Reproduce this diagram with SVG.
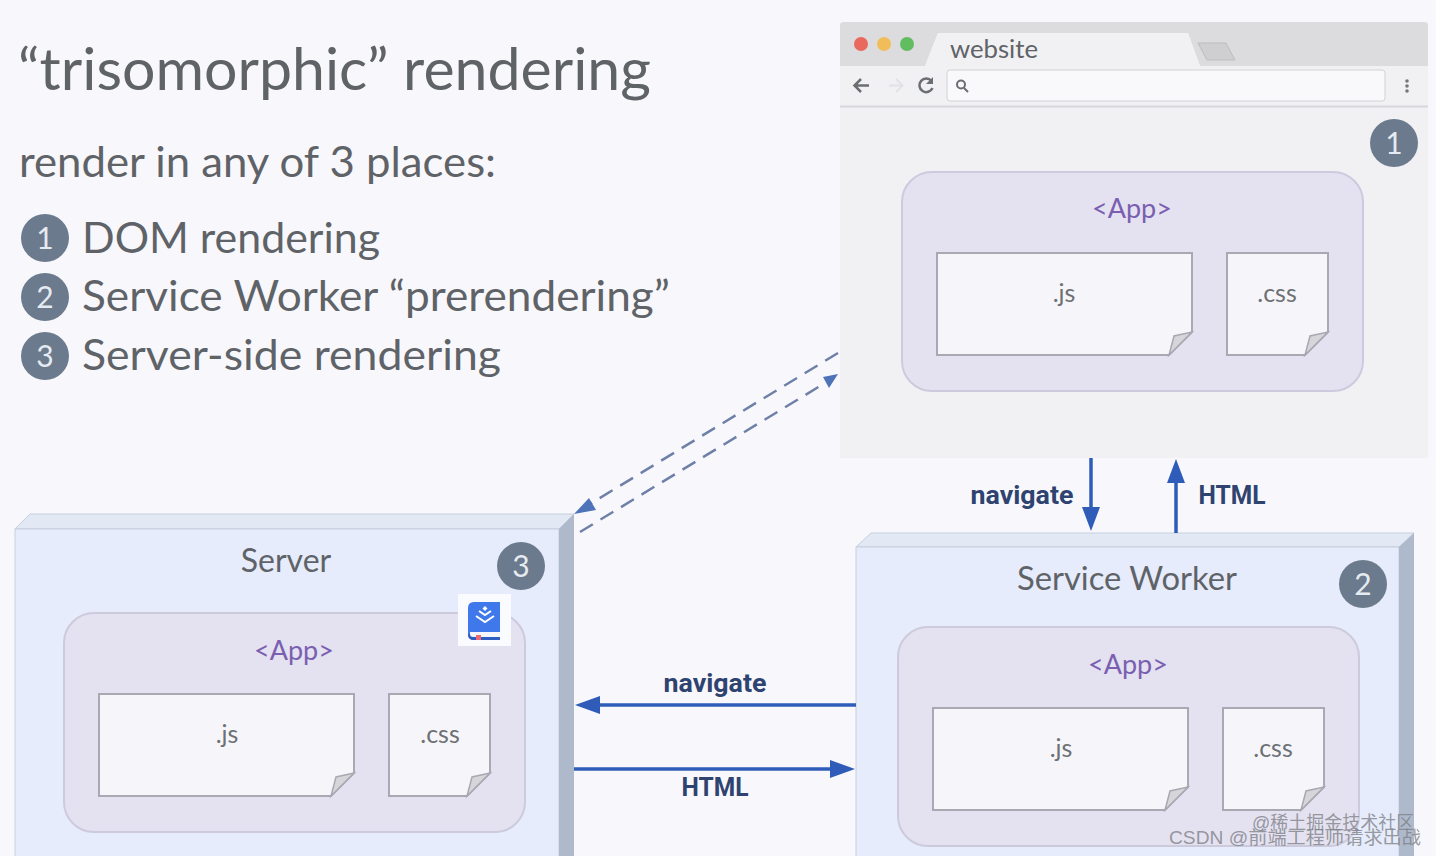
<svg xmlns="http://www.w3.org/2000/svg" width="1436" height="856" viewBox="0 0 1436 856">
<style>
text{font-family:Lato,"Open Sans","Liberation Sans",sans-serif;fill:#5f6368}
.list{font-size:43px}
.lbl{font-size:32px;text-anchor:middle}
.app{font-size:27px;fill:#7a5fb0;text-anchor:middle}
.file{font-size:25px;fill:#6d7074;text-anchor:middle}
.conn{font-size:25px;font-weight:700;fill:#2f4370;font-family:Roboto,"Liberation Sans",sans-serif;text-anchor:middle}
.num{font-size:30px;fill:#e6ebf1;text-anchor:middle}
.badge{fill:#6b7a8d}
.box{fill:#e6ecfb;stroke:#c6cfdd;stroke-width:1}
.top{fill:#e2e8f4;stroke:#c6cfdd}
.side{fill:#aebacb}
.panel{fill:#e4e1f0;stroke:#cdcade;stroke-width:2}
.paper{fill:#f6f6fa;stroke:#a9a9b3;stroke-width:2}
.fold{fill:#d5d5da;stroke:#a9a9b3;stroke-width:1.5}
.solid{stroke:#2f5cb8;stroke-width:3.5;fill:none}
.dash{stroke:#6f80a8;stroke-width:2.5;stroke-dasharray:15 9;fill:none}
.head{fill:#2f5cb8}
.wm{font-family:"Liberation Sans","Noto Sans CJK SC",sans-serif;font-size:18px;fill:#7f8288;fill-opacity:.8}
</style>
<defs>
<g id="appbox">
<rect class="panel" x="0" y="0" width="461" height="219" rx="30"/>
<path class="paper" d="M35 81H290V160L267 183H35Z"/>
<path class="fold" d="M267 183L272 164L290 160Z"/>
<path class="paper" d="M325 81H426V160L403 183H325Z"/>
<path class="fold" d="M403 183L408 164L426 160Z"/>
</g>
</defs>
<rect width="1436" height="856" fill="#f8f8fc"/>

<g id="heading">
<text x="18" y="90" font-size="58" textLength="633" lengthAdjust="spacingAndGlyphs">“trisomorphic” rendering</text>
<text x="19" y="177" font-size="42" textLength="477" lengthAdjust="spacingAndGlyphs">render in any of 3 places:</text>
</g>
<g id="list-1"><circle class="badge" cx="45" cy="238" r="24"/><text class="num" x="45" y="249">1</text><text class="list" x="82" y="253" textLength="298" lengthAdjust="spacingAndGlyphs">DOM rendering</text></g>
<g id="list-2"><circle class="badge" cx="45" cy="297" r="24"/><text class="num" x="45" y="308">2</text><text class="list" x="82" y="311" textLength="588" lengthAdjust="spacingAndGlyphs">Service Worker “prerendering”</text></g>
<g id="list-3"><circle class="badge" cx="45" cy="356" r="24"/><text class="num" x="45" y="367">3</text><text class="list" x="82" y="370" textLength="419" lengthAdjust="spacingAndGlyphs">Server-side rendering</text></g>

<g id="browser">
<rect x="840" y="22" width="588" height="436" fill="#f1f1f4"/>
<path d="M840 26Q840 22 844 22H1424Q1428 22 1428 26V66H1200L1188 33H938L925 66H840Z" fill="#dcdcde"/>
<path d="M925 66L938 33H1188L1200 66Z" fill="#f1f1f4"/>
<path d="M1198 43H1226L1235 60H1207Z" fill="#cfcfd2" stroke="#bdbdc0"/>
<circle cx="861" cy="44" r="7" fill="#e9695f"/>
<circle cx="884" cy="44" r="7" fill="#f1bd58"/>
<circle cx="907" cy="44" r="7" fill="#62bd60"/>
<text x="950" y="58" font-size="25" textLength="88" lengthAdjust="spacingAndGlyphs">website</text>
<line x1="840" y1="106.500" x2="1428" y2="106.500" stroke="#d8d8dc" stroke-width="2"/>
<rect x="947" y="70" width="438" height="31" rx="3" fill="#f9f9fb" stroke="#d2d2d6"/>
<path d="M869 85.500H855M861 79L854.500 85.500L861 92" fill="none" stroke="#6a6d72" stroke-width="2.500"/>
<path d="M902 85.500H889M896 79L902.500 85.500L896 92" fill="none" stroke="#e2e2e6" stroke-width="2"/>
<path d="M931.500 81A6.800 6.800 0 1 0 932.500 88" fill="none" stroke="#6a6d72" stroke-width="2.500"/>
<path d="M933 77V84H926Z" fill="#6a6d72"/>
<circle cx="961" cy="84.500" r="4" fill="none" stroke="#6a6d72" stroke-width="2"/>
<line x1="964" y1="88" x2="968" y2="92" stroke="#6a6d72" stroke-width="2"/>
<circle cx="1407" cy="81" r="1.800" fill="#777"/><circle cx="1407" cy="86" r="1.800" fill="#777"/><circle cx="1407" cy="91" r="1.800" fill="#777"/>
<circle class="badge" cx="1394" cy="143" r="24"/><text class="num" x="1394" y="154">1</text>
<use href="#appbox" x="902" y="172"/>
<text class="app" x="1132" y="218">&lt;App&gt;</text>
<text class="file" x="1064" y="302">.js</text>
<text class="file" x="1277" y="302">.css</text>
</g>

<g id="server">
<path class="top" d="M15 529L30 514H574L559 529Z"/>
<rect class="box" x="15" y="529" width="544" height="340"/>
<path class="side" d="M559 529L574 514V856H559Z"/>
<text class="lbl" x="286" y="572">Server</text>
<circle class="badge" cx="521" cy="566" r="24"/><text class="num" x="521" y="577">3</text>
<use href="#appbox" x="64" y="613"/>
<text class="app" x="294" y="660">&lt;App&gt;</text>
<text class="file" x="227" y="743">.js</text>
<text class="file" x="440" y="743">.css</text>
</g>

<g id="service-worker">
<path class="top" d="M856 547L871 533H1414L1399 547Z"/>
<rect class="box" x="856" y="547" width="543" height="320"/>
<path class="side" d="M1399 547L1414 533V856H1399Z"/>
<text class="lbl" x="1127" y="590" textLength="220" lengthAdjust="spacingAndGlyphs">Service Worker</text>
<circle class="badge" cx="1363" cy="584" r="24"/><text class="num" x="1363" y="595">2</text>
<use href="#appbox" x="898" y="627"/>
<text class="app" x="1128" y="674">&lt;App&gt;</text>
<text class="file" x="1061" y="757">.js</text>
<text class="file" x="1273" y="757">.css</text>
</g>

<g id="book-icon">
<rect x="458" y="594" width="53" height="52" fill="#fafbfe"/>
<path d="M468 608Q468 602 474 602H500V640H474Q468 640 468 634Z" fill="#3f78ea"/>
<path d="M470 632H500V637H470Z" fill="#f4f6fb"/>
<path d="M468 634Q468 640 474 640H500V637H473Q470 637 470 634Z" fill="#2f5cc0"/>
<rect x="476" y="635" width="5" height="5" fill="#e86a72"/>
<path d="M476 616L485 622L494 616M479 611L485 615L491 611" fill="none" stroke="#fff" stroke-width="2"/>
<path d="M485 606L487.500 608.500L485 611L482.500 608.500Z" fill="#fff"/>
</g>

<g id="connectors">
<line class="dash" x1="838" y1="353" x2="590" y2="504"/>
<path d="M574 514L589 498L596 510Z" fill="#4f73b8"/>
<line class="dash" x1="580" y1="532" x2="825" y2="383"/>
<path d="M838 374L823 377L829 388Z" fill="#4f73b8"/>
<line class="solid" x1="1091" y1="458" x2="1091" y2="512"/>
<path class="head" d="M1082 507H1100L1091 531Z"/>
<line class="solid" x1="1176" y1="533" x2="1176" y2="480"/>
<path class="head" d="M1167 483H1185L1176 459Z"/>
<line class="solid" x1="856" y1="705" x2="595" y2="705"/>
<path class="head" d="M600 696V714L575 705Z"/>
<line class="solid" x1="574" y1="769" x2="835" y2="769"/>
<path class="head" d="M830 760V778L855 769Z"/>
<text class="conn" x="1022" y="504" textLength="103" lengthAdjust="spacingAndGlyphs">navigate</text>
<text class="conn" x="1232" y="504" textLength="67" lengthAdjust="spacingAndGlyphs">HTML</text>
<text class="conn" x="715" y="692" textLength="103" lengthAdjust="spacingAndGlyphs">navigate</text>
<text class="conn" x="715" y="796" textLength="67" lengthAdjust="spacingAndGlyphs">HTML</text>
</g>

<g id="watermarks">
<text class="wm" x="1252" y="829">@稀土掘金技术社区</text>
<text class="wm" x="1169" y="844" textLength="252" lengthAdjust="spacingAndGlyphs">CSDN @前端工程师请求出战</text>
</g>
</svg>
